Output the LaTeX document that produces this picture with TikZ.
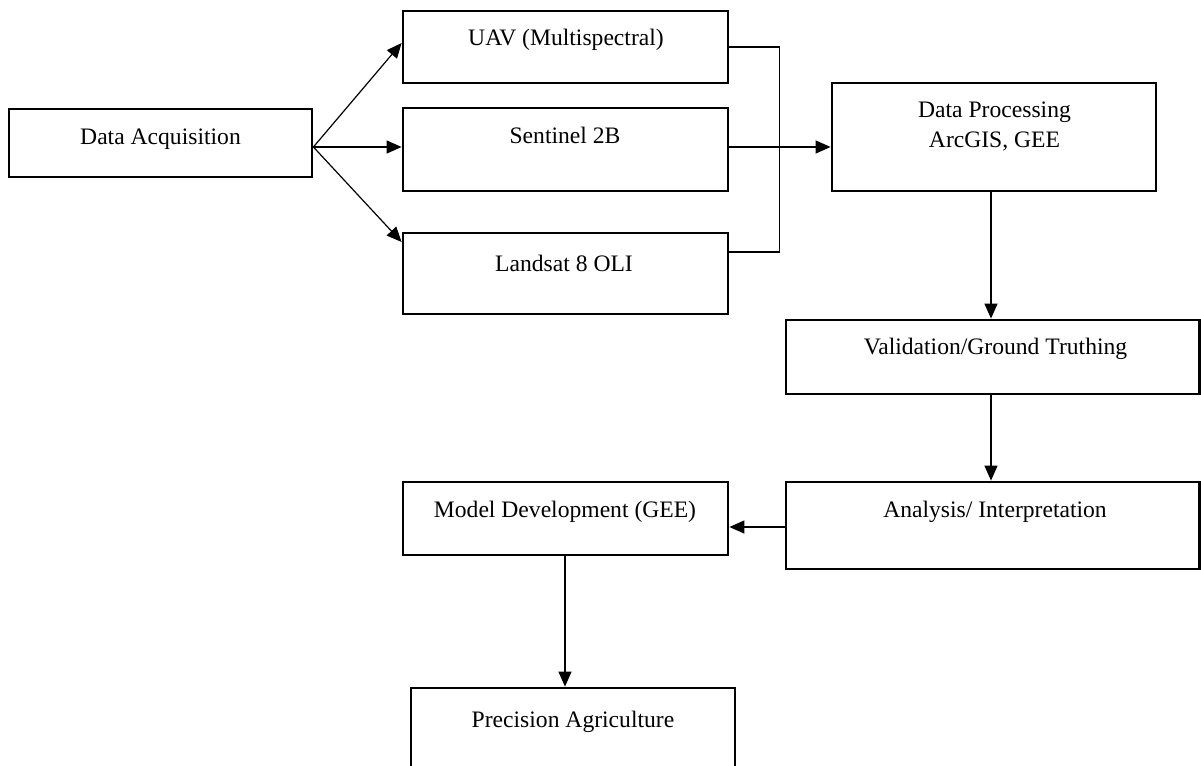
\documentclass[tikz,border=0pt]{standalone}
\usepackage{fontspec}
\setmainfont{Liberation Serif}
\usetikzlibrary{arrows.meta,fit}
\begin{document}
\begin{tikzpicture}[x=0.5pt,y=-0.5pt,
  box/.style={draw=black, line width=1.4pt, inner sep=0pt, rectangle},
  lbl/.style={font=\fontsize{11.8pt}{14pt}\selectfont, inner sep=0pt, anchor=base},
  conn/.style={draw=black, line width=0.6pt},
  arr/.style={conn, -{Triangle[length=7.5pt,width=6.5pt]}}]
\useasboundingbox (0,0) rectangle (1201,766);
\clip (0,0) rectangle (1201,766);
% boxes
\node[box, fit={(9,109) (312,177)}] (da) {};
\node[box, fit={(403,11) (728,83)}] (uav) {};
\node[box, fit={(403,108) (728,191)}] (sen) {};
\node[box, fit={(403,233) (728,314)}] (lan) {};
\node[box, fit={(832,83) (1156,191)}] (dp) {};
\node[box, fit={(786,320) (1199.5,394)}] (val) {};
\node[box, fit={(786,482) (1199.5,569)}] (ana) {};
\node[box, fit={(403,482) (728,555)}] (mod) {};
\node[box, fit={(411,688) (735,800)}] (pre) {};
% labels
\node[lbl] (dat) at (160.5,144) {Data Acquisition};
\node[lbl] (uavt) at (566,45) {UAV (Multispectral)};
\node[lbl] (sent) at (565,143) {Sentinel 2B};
\node[lbl] (lant) at (564,271) {Landsat 8 OLI};
\node[lbl] (dpt1) at (994.5,117) {Data Processing};
\node[lbl] (dpt2) at (994.5,147) {ArcGIS, GEE};
\node[lbl] (valt) at (995.5,354) {Validation/Ground Truthing};
\node[lbl] (anat) at (995,517) {Analysis/ Interpretation};
\node[lbl] (modt) at (565,517) {Model Development (GEE)};
\node[lbl] (pret) at (573,727) {Precision Agriculture};
% connectors
\coordinate (lanout) at ([yshift=10.75pt]lan.east);
\draw[arr] ([yshift=-2pt]da.east) -- ([yshift=2pt]uav.west);
\draw[arr] ([yshift=-2pt]da.east) -- ([yshift=1.25pt]sen.west);
\draw[arr] ([yshift=-2pt]da.east) -- ([yshift=15.75pt]lan.west);
\draw[conn] (uav.east) -- ++(25pt,0) coordinate (brk) -- (brk |- lanout) -- (lanout);
\draw[arr] ([yshift=1.25pt]sen.east) -- ([yshift=-5pt]dp.west);
\draw[arr] ([xshift=-1.5pt]dp.south) -- ([xshift=-0.875pt]val.north);
\draw[arr] ([xshift=-0.875pt]val.south) -- ([xshift=-0.875pt]ana.north);
\draw[arr] ([yshift=-0.75pt]ana.west) -- ([yshift=-4.25pt]mod.east);
\draw[arr] ([xshift=-0.25pt]mod.south) -- ([xshift=-4pt]pre.north);
\end{tikzpicture}
\end{document}
